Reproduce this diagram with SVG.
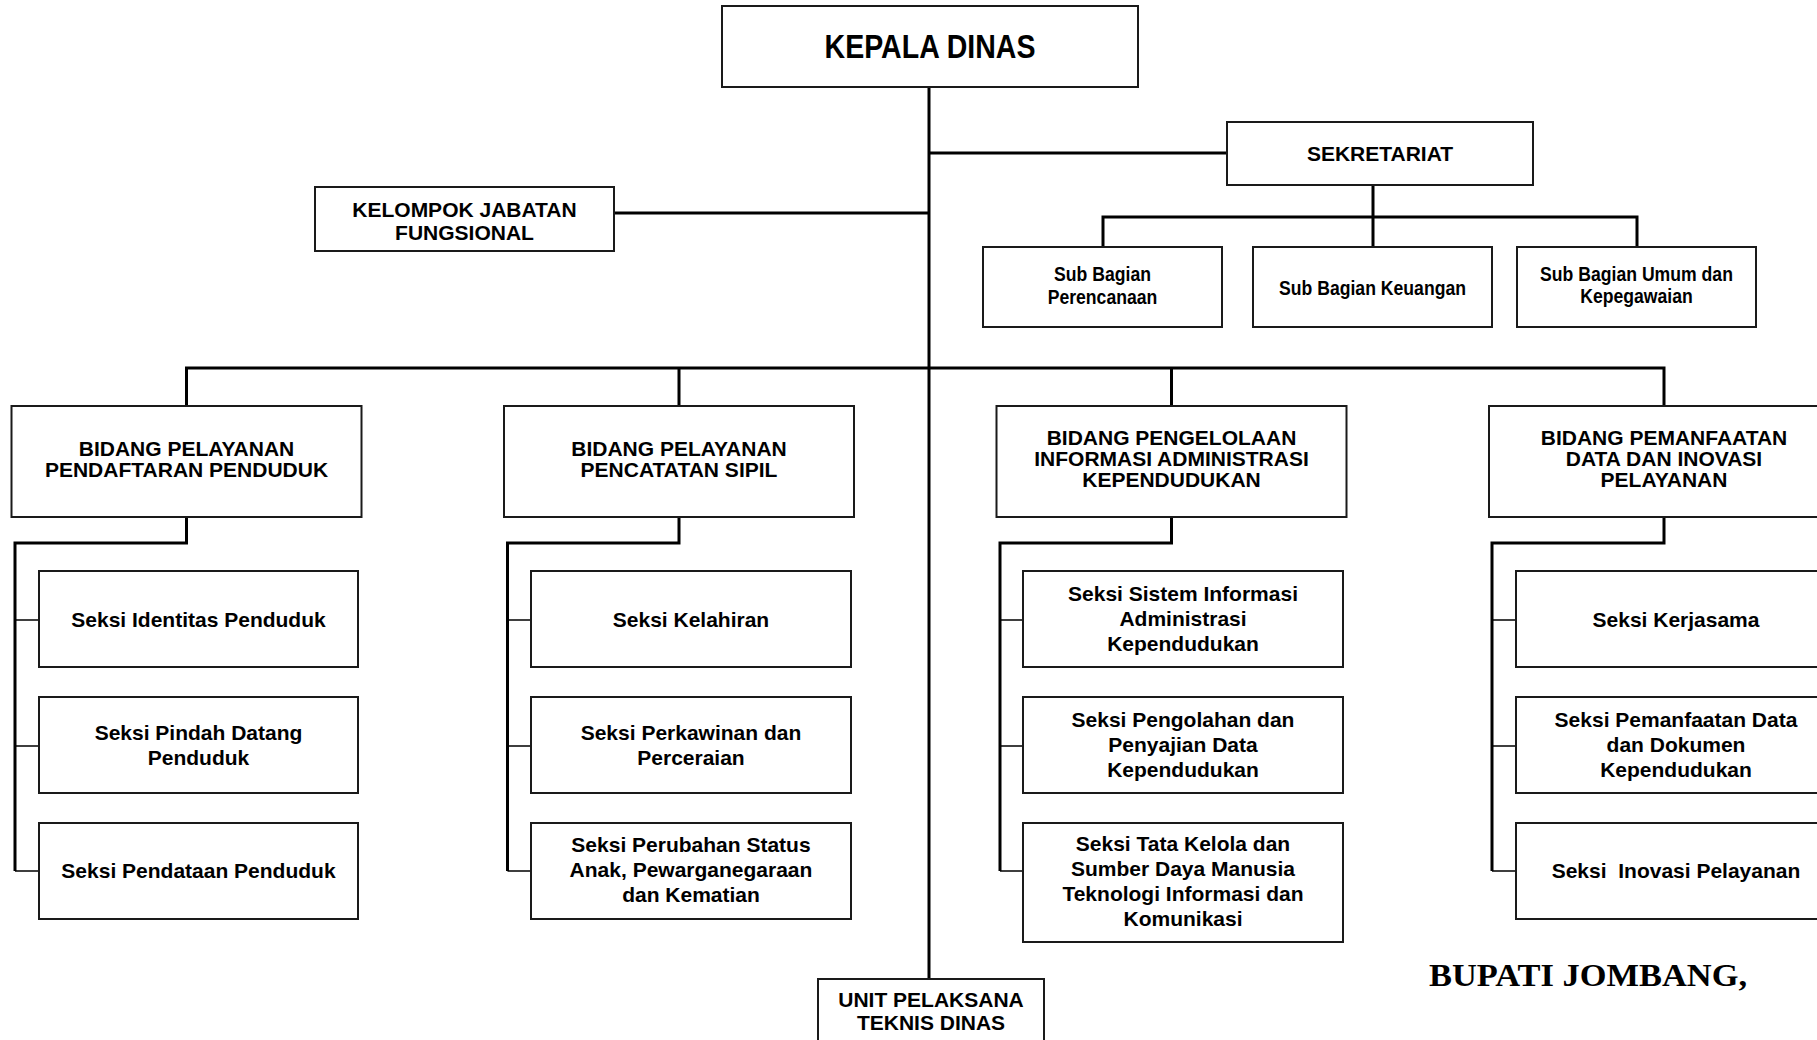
<svg xmlns="http://www.w3.org/2000/svg" width="1817" height="1040" viewBox="0 0 1817 1040">
<style>
.box{fill:#fff;stroke:#1a1a1a;stroke-width:2}
.ln{fill:none;stroke:#000;stroke-width:3}
.tk{fill:none;stroke:#000;stroke-width:1.6}
text{font-family:"Liberation Sans",Arial,sans-serif;font-weight:bold;fill:#000;text-anchor:middle}
.t21{font-size:21px}
.nar{font-size:20.5px}
.kd{font-size:34px}
.bup{font-family:"Liberation Serif","Times New Roman",serif;font-size:32px;text-anchor:start}
</style>
<rect width="1817" height="1040" fill="#fff"/>
<g id="connectors">
<path class="ln" d="M929 87V979"/>
<path class="ln" d="M929 153H1227"/>
<path class="ln" d="M614 213H929"/>
<path class="ln" d="M1373 185V247M1103 247V217H1637V247"/>
<path class="ln" d="M186.5 406V368H1664V406M679 368V406M1171.5 368V406"/>
<path class="ln" d="M186.5 517V543H15V871"/>
<path class="ln" d="M679 517V543H507.5V871"/>
<path class="ln" d="M1171.5 517V543H1000V871"/>
<path class="ln" d="M1664 517V543H1492V871"/>
<path class="tk" d="M15 620H39M15 746H39M15 871H39"/>
<path class="tk" d="M507.5 620H531M507.5 746H531M507.5 871H531"/>
<path class="tk" d="M1000 620H1023M1000 746H1023M1000 871H1023"/>
<path class="tk" d="M1492 620H1516M1492 746H1516M1492 871H1516"/>
</g>
<g id="kepala-dinas"><rect class="box" x="722" y="6" width="416" height="81"/><text class="kd" transform="translate(930,0) scale(0.84,1)" x="0" y="58">KEPALA DINAS</text></g>
<g id="sekretariat"><rect class="box" x="1227" y="122" width="306" height="63"/><text class="t21" x="1380" y="161">SEKRETARIAT</text></g>
<g id="kelompok-jabatan"><rect class="box" x="315" y="187" width="299" height="64"/><text class="t21" x="464.5" y="217">KELOMPOK JABATAN</text><text class="t21" x="464.5" y="240">FUNGSIONAL</text></g>
<g id="sub-perencanaan"><rect class="box" x="983" y="247" width="239" height="80"/><g transform="translate(1102.5,0) scale(0.86,1)"><text class="nar" x="0" y="281.5">Sub Bagian</text><text class="nar" x="0" y="304">Perencanaan</text></g></g>
<g id="sub-keuangan"><rect class="box" x="1253" y="247" width="239" height="80"/><g transform="translate(1372.5,0) scale(0.86,1)"><text class="nar" x="0" y="295">Sub Bagian Keuangan</text></g></g>
<g id="sub-umum"><rect class="box" x="1517" y="247" width="239" height="80"/><g transform="translate(1636.5,0) scale(0.86,1)"><text class="nar" x="0" y="281">Sub Bagian Umum dan</text><text class="nar" x="0" y="303.5">Kepegawaian</text></g></g>
<g id="bidang-pendaftaran"><rect class="box" x="11.5" y="406" width="350" height="111"/><text class="t21" x="186.5" y="456">BIDANG PELAYANAN</text><text class="t21" x="186.5" y="477">PENDAFTARAN PENDUDUK</text></g>
<g id="bidang-capil"><rect class="box" x="504" y="406" width="350" height="111"/><text class="t21" x="679" y="456">BIDANG PELAYANAN</text><text class="t21" x="679" y="477">PENCATATAN SIPIL</text></g>
<g id="bidang-pengelolaan"><rect class="box" x="996.5" y="406" width="350" height="111"/><text class="t21" x="1171.5" y="445">BIDANG PENGELOLAAN</text><text class="t21" x="1171.5" y="466">INFORMASI ADMINISTRASI</text><text class="t21" x="1171.5" y="487">KEPENDUDUKAN</text></g>
<g id="bidang-pemanfaatan"><rect class="box" x="1489" y="406" width="350" height="111"/><text class="t21" x="1664" y="445">BIDANG PEMANFAATAN</text><text class="t21" x="1664" y="466">DATA DAN INOVASI</text><text class="t21" x="1664" y="487">PELAYANAN</text></g>
<g id="seksi-identitas"><rect class="box" x="39" y="571" width="319" height="96"/><text class="t21" x="198.5" y="627">Seksi Identitas Penduduk</text></g>
<g id="seksi-pindah"><rect class="box" x="39" y="697" width="319" height="96"/><text class="t21" x="198.5" y="740">Seksi Pindah Datang</text><text class="t21" x="198.5" y="765">Penduduk</text></g>
<g id="seksi-pendataan"><rect class="box" x="39" y="823" width="319" height="96"/><text class="t21" x="198.5" y="878">Seksi Pendataan Penduduk</text></g>
<g id="seksi-kelahiran"><rect class="box" x="531" y="571" width="320" height="96"/><text class="t21" x="691" y="627">Seksi Kelahiran</text></g>
<g id="seksi-perkawinan"><rect class="box" x="531" y="697" width="320" height="96"/><text class="t21" x="691" y="740">Seksi Perkawinan dan</text><text class="t21" x="691" y="765">Perceraian</text></g>
<g id="seksi-perubahan"><rect class="box" x="531" y="823" width="320" height="96"/><text class="t21" x="691" y="852">Seksi Perubahan Status</text><text class="t21" x="691" y="877">Anak, Pewarganegaraan</text><text class="t21" x="691" y="902">dan Kematian</text></g>
<g id="seksi-siak"><rect class="box" x="1023" y="571" width="320" height="96"/><text class="t21" x="1183" y="601">Seksi Sistem Informasi</text><text class="t21" x="1183" y="626">Administrasi</text><text class="t21" x="1183" y="651">Kependudukan</text></g>
<g id="seksi-pengolahan"><rect class="box" x="1023" y="697" width="320" height="96"/><text class="t21" x="1183" y="727">Seksi Pengolahan dan</text><text class="t21" x="1183" y="752">Penyajian Data</text><text class="t21" x="1183" y="777">Kependudukan</text></g>
<g id="seksi-tata-kelola"><rect class="box" x="1023" y="823" width="320" height="119"/><text class="t21" x="1183" y="851">Seksi Tata Kelola dan</text><text class="t21" x="1183" y="876">Sumber Daya Manusia</text><text class="t21" x="1183" y="901">Teknologi Informasi dan</text><text class="t21" x="1183" y="926">Komunikasi</text></g>
<g id="seksi-kerjasama"><rect class="box" x="1516" y="571" width="320" height="96"/><text class="t21" x="1676" y="627">Seksi Kerjasama</text></g>
<g id="seksi-pemanfaatan"><rect class="box" x="1516" y="697" width="320" height="96"/><text class="t21" x="1676" y="727">Seksi Pemanfaatan Data</text><text class="t21" x="1676" y="752">dan Dokumen</text><text class="t21" x="1676" y="777">Kependudukan</text></g>
<g id="seksi-inovasi"><rect class="box" x="1516" y="823" width="320" height="96"/><text class="t21" x="1676" y="878" xml:space="preserve">Seksi  Inovasi Pelayanan</text></g>
<g id="upt"><rect class="box" x="818" y="979" width="226" height="80"/><text class="t21" x="931" y="1007">UNIT PELAKSANA</text><text class="t21" x="931" y="1030">TEKNIS DINAS</text></g>
<text class="bup" x="1429" y="986" textLength="318" lengthAdjust="spacingAndGlyphs">BUPATI JOMBANG,</text>
</svg>
